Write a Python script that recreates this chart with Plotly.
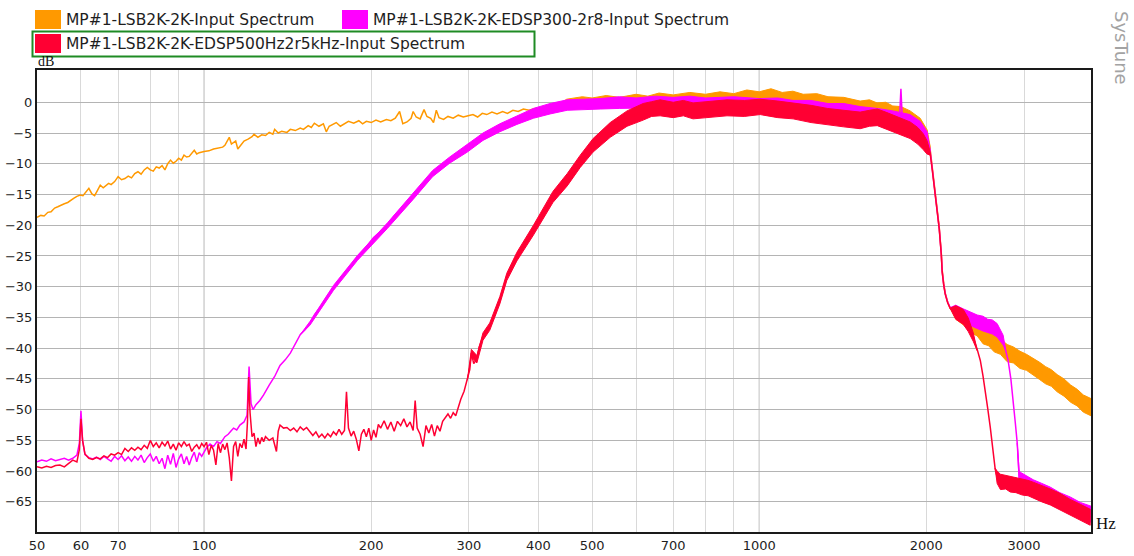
import math
import plotly.graph_objects as go

W, H = 1134, 556
ML, MR, MT, MB = 37, 43, 70, 24

SERIES_NAMES = [
    "MP#1-LSB2K-2K-Input Spectrum",
    "MP#1-LSB2K-2K-EDSP300-2r8-Input Spectrum",
    "MP#1-LSB2K-2K-EDSP500Hz2r5kHz-Input Spectrum",
]
SERIES_COLORS = ["#ff9900", "#ff00ff", "#ff0033"]

X_RANGE_HZ = [50, 3960]
Y_RANGE_DB = [-69.9, 5.25]
X_TICK_VALS = [50, 60, 70, 100, 200, 300, 400, 500, 700, 1000, 2000, 3000]
X_TICK_TEXT = ["50", "60", "70", "100", "200", "300", "400", "500", "700", "1000", "2000", "3000"]
X_MINOR_GRID = [80, 90, 600, 800, 900]
X_DECADE_GRID = [100, 1000]
Y_TICK_VALS = [0, -5, -10, -15, -20, -25, -30, -35, -40, -45, -50, -55, -60, -65]

# ---------------- series 1 (orange) : (Hz, dB)
ORANGE_POINTS = [
    (50, -18.7), (50.8, -18.4), (51.5, -18.5), (52.3, -17.9), (53, -17.8), (53.8, -17.2),
    (54.5, -17.0), (55.3, -16.8), (56, -16.5), (56.8, -16.3), (57.5, -15.9), (58.3, -15.6),
    (59, -15.3), (59.8, -15.1), (60.5, -15.2), (61.3, -14.6), (62, -14.0), (62.8, -14.9),
    (63.5, -15.2), (64.3, -14.3), (65, -13.5), (65.8, -13.9), (66.5, -13.6), (67.3, -13.2),
    (68, -13.4), (69, -12.9), (70, -12.1), (71, -12.6), (72, -12.4), (73, -12.0), (74, -12.3),
    (75, -11.6), (76, -11.3), (77, -11.7), (78, -11.0), (79, -10.6), (80, -11.0), (81, -11.2),
    (82, -10.5), (83, -10.7), (84, -10.3), (85, -11.0), (86, -10.0), (87, -9.4), (88, -9.9),
    (89, -9.6), (90, -9.1), (91, -9.4), (92, -8.6), (93, -8.9), (94, -8.8), (95, -8.3),
    (96, -7.8), (97, -8.4), (98, -8.2), (100, -8.0), (102, -7.9), (104, -7.6), (106, -7.4),
    (108, -7.3), (109, -7.0), (111, -5.7), (112, -6.8), (114, -6.3), (115, -7.6), (117, -6.6),
    (118, -6.3), (120, -6.0), (122, -5.6), (123, -5.2), (125, -5.7), (127, -5.3), (129, -5.4),
    (131, -4.9), (133, -5.2), (134, -4.4), (136, -5.0), (138, -4.7), (141, -4.9), (143, -4.4),
    (146, -4.6), (149, -4.2), (151, -4.4), (154, -3.8), (156, -4.1), (158, -3.4), (161, -3.9),
    (164, -3.5), (166, -4.8), (168, -3.9), (171, -3.6), (173, -3.3), (176, -3.9), (179, -3.5),
    (182, -3.1), (186, -3.4), (190, -3.0), (193, -3.5), (196, -3.1), (200, -3.3), (204, -2.9),
    (208, -3.2), (213, -2.8), (217, -3.0), (221, -2.6), (225, -1.5), (228, -3.5), (232, -3.2),
    (236, -2.6), (238, -1.5), (241, -2.4), (245, -2.7), (249, -1.2), (252, -2.3), (256, -2.6),
    (259, -3.3), (262, -1.3), (265, -2.5), (270, -2.8), (275, -2.3), (281, -2.6), (287, -2.1),
    (293, -2.4), (299, -2.2), (305, -2.0), (311, -2.4), (317, -1.8), (323, -2.0), (330, -1.6),
    (337, -1.9), (345, -1.5), (352, -1.8), (360, -1.3), (368, -1.5), (376, -1.1), (385, -1.3),
    (395, -1.0), (405, -1.1), (415, -0.7), (425, -0.8), (435, -0.4), (460, -0.1), (500, 0.1),
    (550, 0.2), (600, 0.3), (660, 0.3), (750, 0.4), (850, 0.6), (1000, 0.8), (1100, 0.6),
    (1200, 0.3), (1330, -0.3), (1520, -0.8), (1630, -1.1), (1740, -1.6), (1870, -2.4),
    (1950, -3.6), (2007, -5.5), (2030, -7.3), (2050, -10.5), (2075, -14.8), (2093, -17.5),
    (2110, -20.3), (2128, -24.5), (2136, -27.3), (2150, -29.5), (2163, -31.0), (2185, -32.5),
    (2208, -33.5), (2260, -34.3), (2331, -35.0), (2420, -36.3), (2532, -37.9), (2650, -39.3),
    (2797, -40.8), (2950, -41.9), (3116, -43.0), (3280, -44.4), (3442, -45.7), (3640, -47.4),
    (3835, -49.0), (3960, -49.6),
]
# noisy band envelopes: (Hz, low dB, high dB)
ORANGE_BAND_PLATEAU = [
    (435, -0.4, -0.4), (450, -1.2, 0.5), (480, -1.0, 0.9), (500, -1.0, 0.7), (530, -0.9, 1.1),
    (560, -0.9, 0.8), (600, -0.8, 1.3), (630, -0.8, 1.0), (660, -0.7, 1.5), (700, -0.7, 1.2),
    (750, -0.6, 1.6), (800, -0.6, 1.3), (850, -0.4, 1.7), (900, -0.4, 1.4), (950, -0.3, 2.0),
    (1000, -0.3, 1.7), (1050, -0.3, 2.2), (1100, -0.4, 1.6), (1150, -0.5, 1.8),
    (1200, -0.7, 1.3), (1270, -0.9, 1.4), (1330, -1.2, 0.9), (1420, -1.5, 0.8),
    (1520, -1.8, 0.2), (1580, -2.0, 0.4), (1630, -2.2, -0.1), (1690, -2.4, 0.0),
    (1740, -2.7, -0.6), (1800, -3.0, -0.7), (1870, -3.5, -1.4), (1950, -4.8, -2.6),
    (2007, -6.5, -4.5), (2030, -7.6, -7.0),
]
ORANGE_BAND_TAIL = [
    (2208, -33.5, -33.5), (2260, -35.3, -33.3), (2331, -36.2, -33.8), (2420, -37.6, -35.0),
    (2470, -38.0, -35.7), (2532, -39.3, -36.5), (2590, -39.6, -37.0), (2650, -40.6, -37.9),
    (2720, -41.0, -38.5), (2797, -42.2, -39.4), (2870, -42.4, -39.8), (2950, -43.3, -40.5),
    (3030, -43.6, -41.0), (3116, -44.4, -41.6), (3200, -45.1, -42.3), (3280, -45.8, -43.0),
    (3360, -46.2, -43.5), (3442, -47.1, -44.3), (3540, -47.8, -45.0), (3640, -48.8, -46.0),
    (3740, -49.4, -46.7), (3835, -50.4, -47.6), (3960, -51.0, -48.2),
]

# ---------------- series 2 (magenta)
MAGENTA_POINTS = [
    (50, -58.5), (51, -58.2), (52, -58.4), (53, -58.0), (54, -58.3), (55, -58.1), (56, -57.9),
    (57, -58.2), (58, -57.9), (59, -57.4), (59.6, -55.5), (60, -50.2), (60.4, -55.0),
    (61, -57.3), (62, -57.8), (63, -58.0), (64, -57.7), (65, -58.1), (66, -57.6), (67, -58.0),
    (68, -58.4), (69, -57.6), (70, -58.1), (71, -57.5), (72, -58.3), (73, -57.7), (74, -58.4),
    (75, -57.6), (76, -58.2), (77, -57.4), (78, -58.6), (79, -57.8), (80, -57.2), (81, -58.4),
    (82, -57.6), (83, -58.8), (84, -57.9), (85, -59.6), (86, -57.4), (87, -58.9), (88, -57.1),
    (89, -59.4), (90, -58.0), (91, -57.2), (92, -58.8), (93, -57.6), (94, -59.0), (95, -57.8),
    (96, -56.9), (97, -58.5), (98, -57.0), (99, -57.6), (100, -56.8), (101, -56.2),
    (102.5, -55.6), (104, -56.0), (105.5, -55.2), (107, -55.5), (109, -54.4), (110.5, -54.0),
    (112, -53.4), (113, -53.0), (114.5, -53.3), (116, -52.5), (118, -52.0), (119.5, -50.9),
    (120.5, -43.0), (121.5, -49.0), (122.5, -50.0), (124, -49.2), (126, -48.5), (128, -47.6),
    (131, -46.0), (134, -44.6), (137, -42.8), (140, -41.9), (143, -40.8), (146, -39.3),
    (149, -37.8), (152, -37.0), (155, -36.0), (158, -34.6), (162, -33.3), (166, -31.8),
    (171, -30.2), (175, -29.0), (178, -28.1), (183, -26.9), (189, -25.3), (195, -23.7),
    (202, -22.0), (208, -21.0), (214, -20.1), (220, -18.5), (225, -17.6), (231, -16.5),
    (238, -15.3), (245, -14.0), (251, -12.8), (258, -11.6), (264, -10.9), (270, -10.1),
    (277, -9.4), (284, -8.6), (291, -8.0), (298, -7.5), (305, -6.8), (311, -6.3), (318, -5.6),
    (326, -5.0), (333, -4.6), (341, -4.2), (349, -3.6), (357, -3.3), (366, -2.9), (375, -2.4),
    (383, -2.1), (392, -1.8), (406, -1.3), (420, -1.0), (436, -0.6), (451, -0.4), (482, -0.3),
    (517, -0.2), (600, 0.1), (700, 0.2), (800, 0.1), (1000, 0.0), (1150, -0.4), (1330, -0.9),
    (1520, -1.5), (1630, -1.8), (1740, -2.2), (1790, -2.4), (1800, 2.2), (1810, -2.5),
    (1870, -2.8), (1950, -3.9), (2007, -5.6), (2030, -7.6), (2050, -10.8), (2075, -15.0),
    (2093, -17.8), (2110, -20.5), (2128, -24.6), (2136, -27.5), (2150, -29.7), (2163, -31.1),
    (2185, -32.5), (2208, -33.4), (2260, -34.0), (2331, -34.6), (2400, -35.2), (2470, -35.7),
    (2580, -36.4), (2683, -37.1), (2751, -38.7), (2780, -40.2), (2808, -42.0), (2840, -45.0),
    (2868, -48.4), (2892, -52.0), (2916, -55.4), (2940, -61.0), (2970, -61.6), (3050, -62.2),
    (3116, -62.7), (3230, -63.3), (3344, -63.9), (3480, -64.8), (3633, -65.5), (3790, -66.4),
    (3960, -67.0),
]
MAGENTA_BAND_MAIN = [
    (149, -37.8, -37.8), (155, -36.3, -35.7), (171, -30.6, -29.8), (189, -25.7, -24.9),
    (214, -20.5, -19.6), (238, -15.8, -14.8), (258, -12.1, -11.1), (277, -9.9, -8.9),
    (298, -8.1, -6.9), (318, -6.2, -5.0), (341, -4.8, -3.5), (366, -3.6, -2.2),
    (392, -2.6, -1.0), (420, -1.9, -0.2), (451, -1.3, 0.4), (482, -1.2, 0.5), (517, -1.1, 0.6),
    (560, -1.0, 0.9), (600, -0.9, 0.7), (650, -0.9, 1.0), (700, -0.8, 0.8), (750, -0.9, 1.0),
    (800, -0.9, 0.7), (900, -1.0, 0.9), (1000, -1.0, 0.6), (1080, -1.2, 0.7),
    (1150, -1.4, 0.3), (1240, -1.6, 0.3), (1330, -1.9, -0.2), (1420, -2.2, -0.2),
    (1520, -2.5, -0.7), (1630, -2.8, -1.0), (1740, -3.2, -1.4), (1870, -3.8, -2.0),
    (1950, -4.9, -3.1), (2007, -6.6, -4.8), (2030, -7.9, -7.3),
]
MAGENTA_BAND_SHOULDER = [
    (2208, -33.4, -33.4), (2260, -35.0, -33.0), (2331, -35.6, -33.6), (2400, -36.3, -34.1),
    (2470, -36.8, -34.6), (2530, -37.2, -34.8), (2580, -37.5, -35.3), (2630, -37.7, -35.4),
    (2683, -38.2, -36.0), (2751, -39.5, -37.9), (2780, -40.4, -40.0),
]
MAGENTA_BAND_FLOOR = [
    (2916, -55.4, -55.4), (2940, -62.0, -60.0), (2970, -62.9, -60.3), (3050, -63.5, -60.9),
    (3116, -64.0, -61.4), (3230, -64.6, -62.0), (3344, -65.2, -62.6), (3480, -66.1, -63.5),
    (3633, -66.8, -64.2), (3790, -67.7, -65.1), (3960, -68.3, -65.7),
]

# ---------------- series 3 (red)
RED_POINTS = [
    (50, -59.3), (51, -59.5), (52, -59.2), (53, -59.4), (54, -59.1), (55, -59.0), (56, -59.3),
    (57, -58.7), (58, -58.2), (59, -58.5), (59.6, -56.5), (60, -51.5), (60.4, -55.0),
    (61, -57.2), (62, -57.9), (63, -58.1), (64, -57.8), (65, -58.0), (66, -57.5), (67, -57.8),
    (68, -57.2), (69, -57.4), (70, -57.0), (71, -57.3), (72, -56.3), (73, -56.8), (74, -56.2),
    (75, -56.6), (76, -56.1), (77, -56.5), (78, -55.8), (79, -56.3), (80, -55.0), (81, -56.0),
    (82, -55.4), (83, -56.2), (84, -55.3), (85, -55.9), (86, -55.1), (87, -56.4), (88, -55.6),
    (89, -56.6), (90, -55.4), (91, -56.0), (92, -55.2), (93, -55.9), (94, -55.6), (95, -56.8),
    (96, -56.1), (97, -55.7), (98, -56.4), (99, -55.5), (100, -56.0), (101, -55.3),
    (102, -57.3), (103, -55.8), (104, -56.6), (105, -59.0), (106, -55.5), (107, -57.0),
    (108, -55.6), (109, -56.5), (110, -55.4), (111, -57.8), (112, -61.6), (113, -56.0),
    (114, -55.2), (115, -57.6), (116, -55.5), (117, -56.2), (118, -54.8), (119, -56.4),
    (119.7, -52.0), (120.3, -44.7), (121, -50.5), (122, -54.4), (123, -53.8), (124, -56.0),
    (125, -54.6), (126, -55.6), (127, -54.5), (128, -55.2), (129, -54.4), (131, -55.0),
    (133, -54.6), (135, -56.8), (136, -53.5), (137, -52.5), (139, -53.0), (141, -52.9),
    (143, -53.4), (145, -53.0), (147, -53.6), (149, -52.8), (151, -53.3), (153, -52.9),
    (155, -53.5), (157, -54.2), (159, -53.6), (161, -54.5), (163, -54.0), (165, -54.6),
    (167, -53.9), (169, -54.4), (171, -53.6), (173, -54.1), (175, -53.2), (177, -54.0),
    (179, -53.4), (180.5, -47.1), (182, -53.0), (184, -54.3), (186, -53.5), (188, -54.8),
    (190, -56.7), (192, -54.0), (194, -53.2), (196, -54.4), (198, -53.0), (200, -55.0),
    (202, -53.3), (204, -54.5), (206, -52.4), (208, -53.0), (211, -51.8), (214, -53.2),
    (217, -52.0), (220, -53.5), (223, -51.9), (226, -52.6), (229, -51.5), (232, -52.8),
    (235, -52.0), (238, -53.4), (240, -48.5), (242, -53.0), (245, -54.0), (248, -56.0),
    (251, -52.6), (254, -53.8), (257, -52.4), (260, -54.3), (263, -52.6), (266, -53.5),
    (269, -51.9), (272, -51.2), (275, -50.7), (278, -51.4), (281, -50.5), (284, -51.0),
    (287, -49.5), (290, -48.3), (294, -47.0), (298, -45.2), (301, -43.5), (303, -40.8),
    (306, -42.5), (310, -41.8), (313, -39.8), (318, -38.1), (322, -37.4), (327, -36.5),
    (331, -35.3), (334, -34.6), (338, -33.0), (341, -32.2), (346, -30.4), (351, -28.4),
    (358, -26.7), (366, -25.1), (375, -23.6), (383, -22.2), (392, -20.8), (403, -18.9),
    (414, -17.1), (425, -15.4), (438, -13.9), (451, -12.6), (463, -11.1), (476, -9.6),
    (486, -8.7), (496, -7.6), (502, -7.0), (517, -5.8), (539, -4.5), (558, -3.5), (578, -2.6),
    (598, -2.0), (618, -1.5), (640, -1.0), (663, -0.8), (700, -1.0), (760, -1.3), (815, -1.1),
    (875, -0.9), (940, -0.8), (1004, -0.7), (1080, -1.0), (1151, -1.3), (1240, -1.8),
    (1326, -2.3), (1420, -2.6), (1520, -2.9), (1580, -2.6), (1632, -2.4), (1690, -2.9),
    (1742, -3.4), (1800, -3.9), (1870, -4.5), (1930, -5.4), (1974, -6.4), (2005, -7.3),
    (2032, -8.3), (2050, -11.0), (2075, -15.2), (2093, -17.9), (2110, -20.6), (2128, -24.7),
    (2136, -27.6), (2150, -29.8), (2163, -31.2), (2185, -32.6), (2208, -33.5), (2260, -34.2),
    (2331, -34.9), (2380, -36.2), (2430, -38.2), (2470, -40.2), (2502, -42.0), (2530, -44.5),
    (2554, -46.8), (2580, -49.8), (2607, -52.8), (2625, -55.3), (2640, -57.7), (2660, -59.5),
    (2683, -61.0), (2720, -61.7), (2780, -61.9), (2833, -62.1), (2900, -62.4), (2980, -62.6),
    (3050, -62.8), (3116, -63.1), (3230, -63.6), (3344, -64.2), (3480, -65.0), (3633, -65.9),
    (3790, -66.7), (3947, -67.5),
]
RED_BAND_MAIN = [
    (298, -45.2, -45.2), (303, -41.4, -40.2), (310, -42.4, -41.2), (318, -38.7, -37.5),
    (327, -37.1, -35.9), (341, -32.8, -31.6), (351, -29.0, -27.8), (366, -25.8, -24.4),
    (392, -21.6, -20.0), (425, -16.3, -14.5), (451, -13.6, -11.6), (476, -10.6, -8.6),
    (502, -8.1, -5.9), (539, -5.7, -3.3), (578, -3.9, -1.4), (618, -2.9, -0.2),
    (640, -2.3, 0.1), (663, -2.2, 0.4), (700, -2.5, 0.0), (730, -2.2, 0.3), (760, -2.7, -0.1),
    (815, -2.4, 0.2), (875, -2.2, 0.4), (940, -2.3, 0.3), (1004, -2.0, 0.5),
    (1080, -2.5, 0.2), (1151, -2.7, -0.1), (1240, -3.3, -0.5), (1326, -3.7, -1.0),
    (1420, -4.0, -1.3), (1520, -4.3, -1.6), (1580, -3.9, -1.3), (1632, -3.8, -1.1),
    (1690, -4.3, -1.6), (1742, -4.8, -2.1), (1800, -5.3, -2.6), (1870, -5.9, -3.2),
    (1930, -6.8, -4.1), (1974, -7.7, -5.1), (2005, -8.4, -6.2), (2032, -8.6, -8.0),
]
RED_BAND_SHOULDER = [
    (2208, -33.5, -33.5), (2260, -35.3, -33.1), (2331, -36.1, -33.7), (2380, -37.3, -35.1),
    (2430, -38.9, -37.5), (2470, -40.4, -40.0),
]
RED_BAND_FLOOR = [
    (2660, -59.5, -59.5), (2683, -62.0, -60.0), (2720, -63.0, -60.5), (2780, -62.9, -60.7),
    (2833, -63.4, -60.8), (2900, -63.5, -61.1), (2980, -63.9, -61.3), (3050, -64.0, -61.5),
    (3116, -64.4, -61.8), (3230, -65.0, -62.3), (3344, -65.5, -62.9), (3480, -66.4, -63.6),
    (3633, -67.2, -64.6), (3790, -68.0, -65.4), (3947, -68.8, -66.2),
]


def band_polygon(segments):
    xs, ys = [], []
    for seg in segments:
        hz = [p[0] for p in seg]
        lo = [p[1] for p in seg]
        hi = [p[2] for p in seg]
        xs += hz + hz[::-1] + [hz[0], None]
        ys += hi + lo[::-1] + [hi[0], None]
    return xs, ys


fig = go.Figure()

series = [
    (ORANGE_POINTS, [ORANGE_BAND_PLATEAU, ORANGE_BAND_TAIL]),
    (MAGENTA_POINTS, [MAGENTA_BAND_MAIN, MAGENTA_BAND_SHOULDER, MAGENTA_BAND_FLOOR]),
    (RED_POINTS, [RED_BAND_MAIN, RED_BAND_SHOULDER, RED_BAND_FLOOR]),
]
for (pts, bands), name, color in zip(series, SERIES_NAMES, SERIES_COLORS):
    bx, by = band_polygon(bands)
    fig.add_trace(go.Scatter(x=bx, y=by, mode="lines", fill="toself", fillcolor=color,
                             line=dict(color=color, width=1), showlegend=False,
                             hoverinfo="skip"))
    fig.add_trace(go.Scatter(x=[p[0] for p in pts], y=[p[1] for p in pts], mode="lines",
                             line=dict(color=color, width=1.5), name=name, showlegend=False))

# ---------------- layout helpers (pixel -> paper)
PW, PH = W - ML - MR, H - MT - MB


def fx(px):
    return (px - ML) / PW


def fy(py):
    return (H - MB - py) / PH


shapes = []
for v in X_DECADE_GRID:
    shapes.append(dict(type="line", xref="x", yref="paper", x0=v, x1=v, y0=0, y1=1,
                       line=dict(color="#adadad", width=1), layer="below"))

annotations = []
LEGEND_POS = [(35, 10), (342, 10), (35, 34)]
for (sx, sy), name, color in zip(LEGEND_POS, SERIES_NAMES, SERIES_COLORS):
    shapes.append(dict(type="rect", xref="paper", yref="paper", x0=fx(sx), x1=fx(sx + 26),
                       y0=fy(sy + 19), y1=fy(sy), fillcolor=color, line=dict(width=0)))
    annotations.append(dict(xref="paper", yref="paper", x=fx(sx + 29), y=fy(sy + 10),
                            xanchor="left", yanchor="middle", text=name, showarrow=False,
                            font=dict(family="DejaVu Sans", size=15.5, color="#1e1e1e")))
shapes.append(dict(type="rect", xref="paper", yref="paper", x0=fx(32.5), x1=fx(534.5),
                   y0=fy(56.5), y1=fy(31.5), line=dict(color="#1f8b24", width=2)))

annotations.append(dict(xref="paper", yref="paper", x=fx(36), y=fy(62), xanchor="left",
                        yanchor="middle", text="dB", showarrow=False,
                        font=dict(family="Liberation Serif", size=14, color="#111")))
annotations.append(dict(xref="paper", yref="paper", x=fx(1094), y=fy(523), xanchor="left",
                        yanchor="middle", text="Hz", showarrow=False,
                        font=dict(family="Liberation Serif", size=17, color="#111")))
annotations.append(dict(xref="paper", yref="paper", x=fx(1121), y=fy(48), xanchor="center",
                        yanchor="middle", text="SysTune", textangle=90, showarrow=False,
                        font=dict(family="DejaVu Sans", size=18, color="#a3a3a3")))

fig.update_layout(
    width=W, height=H,
    margin=dict(l=ML, r=MR, t=MT, b=MB, pad=0),
    paper_bgcolor="white", plot_bgcolor="white",
    showlegend=False,
    shapes=shapes, annotations=annotations,
    xaxis=dict(type="log", range=[math.log10(X_RANGE_HZ[0]), math.log10(X_RANGE_HZ[1])],
               tickmode="array", tickvals=X_TICK_VALS, ticktext=X_TICK_TEXT,
               showgrid=True, gridcolor="#d9d9d9", gridwidth=1,
               minor=dict(tickmode="array", tickvals=X_MINOR_GRID, showgrid=True,
                          gridcolor="#d9d9d9", gridwidth=1, ticks=""),
               ticks="", showline=True, linecolor="#1a1a1a", linewidth=2, mirror=True,
               zeroline=False, automargin=False,
               tickfont=dict(family="DejaVu Sans", size=13, color="#1e1e1e")),
    yaxis=dict(range=Y_RANGE_DB, tickmode="array", tickvals=Y_TICK_VALS,
               showgrid=True, gridcolor="#b4b4b4", gridwidth=1,
               ticks="", showline=True, linecolor="#1a1a1a", linewidth=2, mirror=True,
               zeroline=False, automargin=False,
               tickfont=dict(family="DejaVu Sans", size=13, color="#1e1e1e")),
)

fig.write_html("out.html")
